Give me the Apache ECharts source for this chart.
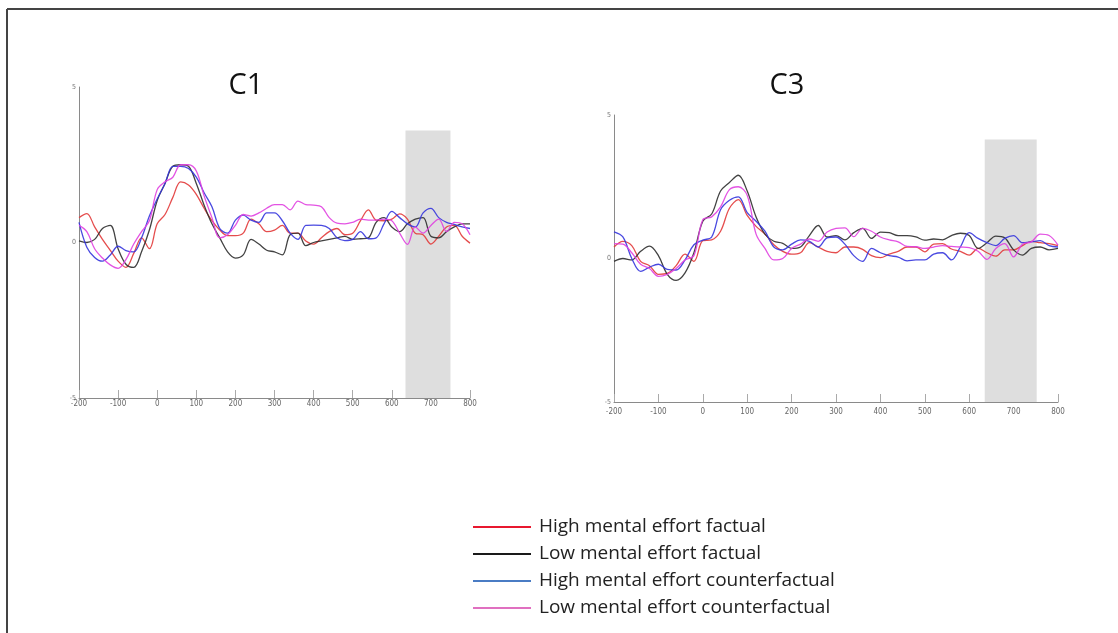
<!DOCTYPE html>
<html>
<head>
<meta charset="utf-8">
<script src="https://cdn.jsdelivr.net/npm/echarts@6/dist/echarts.min.js"></script>
<style>
html,body{margin:0;padding:0;background:#fff;}
#c{width:1118px;height:633px;}
</style>
</head>
<body>
<div id="c"></div>
<script>
// time points (ms)
const times = [-200,-180,-160,-140,-120,-100,-80,-60,-40,-20,0,20,40,60,80,100,120,140,160,180,200,220,240,260,280,300,320,340,360,380,400,420,440,460,480,500,520,540,560,580,600,620,640,660,680,700,720,740,760,780,800];
const xTicks = [-200,-100,0,100,200,300,400,500,600,700,800];
const yTicks = [-5,0,5];
const seriesNames = ['High mental effort factual','Low mental effort factual','High mental effort counterfactual','Low mental effort counterfactual'];
const panelTitles = ['C1','C3'];
// shaded window (ms) per panel: start, end, top value
const windowC1 = [635, 750, 3.6];
const windowC3 = [635, 752, 4.15];

// C1 panel
const c1HighFactual = [0.8,0.93,0.5,0.1,-0.25,-0.6,-0.8,-0.35,0.15,-0.2,0.6,0.9,1.45,1.95,1.85,1.55,1.1,0.7,0.4,0.22,0.22,0.3,0.75,0.6,0.35,0.4,0.55,0.3,0.3,0.05,-0.05,0.15,0.35,0.45,0.25,0.3,0.7,1.05,0.72,0.7,0.75,0.92,0.75,0.3,0.25,-0.05,0.2,0.5,0.55,0.2,-0.02];
const c1LowFactual = [0.05,0.0,0.1,0.45,0.55,-0.2,-0.7,-0.8,-0.3,0.4,1.35,1.9,2.45,2.5,2.45,1.9,1.2,0.6,0.15,-0.3,-0.5,-0.4,0.1,-0.05,-0.25,-0.3,-0.4,0.25,0.3,-0.1,0.0,0.05,0.1,0.15,0.2,0.1,0.12,0.15,0.65,0.8,0.5,0.35,0.6,0.75,0.8,0.2,0.15,0.35,0.5,0.6,0.6];
const c1HighCounter = [0.65,-0.15,-0.48,-0.6,-0.4,-0.12,-0.26,-0.3,0.15,0.85,1.4,1.9,2.45,2.45,2.38,2.1,1.6,1.15,0.45,0.3,0.72,0.88,0.72,0.65,0.95,0.95,0.7,0.3,0.1,0.55,0.56,0.55,0.45,0.15,0.06,0.1,0.35,0.12,0.15,0.6,1.0,0.8,0.6,0.5,0.95,1.1,0.8,0.65,0.58,0.5,0.45];
const c1LowCounter = [0.55,0.35,-0.2,-0.5,-0.72,-0.83,-0.55,-0.05,0.35,0.7,1.7,1.95,2.1,2.5,2.5,2.3,1.5,0.8,0.15,0.25,0.55,0.9,0.85,0.95,1.1,1.22,1.22,1.05,1.33,1.22,1.2,1.15,0.8,0.62,0.6,0.65,0.75,0.72,0.72,0.75,0.7,0.3,-0.06,0.5,0.3,0.55,0.75,0.35,0.65,0.6,0.25];

// C3 panel
const c3HighFactual = [0.4,0.6,0.45,-0.1,-0.25,-0.55,-0.52,-0.25,0.15,-0.1,0.62,0.65,0.95,1.75,2.05,1.5,1.12,0.85,0.48,0.25,0.15,0.2,0.55,0.4,0.25,0.2,0.4,0.4,0.32,0.1,0.03,0.15,0.25,0.4,0.4,0.23,0.5,0.52,0.33,0.25,0.12,0.35,0.2,0.08,0.3,0.3,0.45,0.6,0.55,0.52,0.45];
const c3LowFactual = [-0.1,0.0,-0.05,0.25,0.43,0.1,-0.55,-0.76,-0.5,0.2,1.3,1.55,2.35,2.65,2.9,2.35,1.45,0.85,0.6,0.53,0.35,0.4,0.8,1.15,0.75,0.8,0.65,0.9,1.05,0.7,0.92,0.9,0.8,0.8,0.75,0.64,0.68,0.65,0.8,0.88,0.8,0.35,0.55,0.78,0.72,0.3,0.12,0.35,0.4,0.3,0.35];
const c3HighCounter = [0.93,0.75,0.0,-0.45,-0.3,-0.2,-0.38,-0.4,-0.05,0.48,0.64,0.75,1.7,2.03,2.15,1.6,1.3,0.95,0.4,0.3,0.5,0.65,0.6,0.4,0.72,0.75,0.5,0.1,-0.1,0.35,0.2,0.1,0.05,-0.08,-0.05,-0.05,0.15,0.2,-0.05,0.4,0.9,0.7,0.55,0.45,0.7,0.8,0.55,0.58,0.62,0.45,0.4];
const c3LowCounter = [0.52,0.5,0.2,-0.2,-0.35,-0.62,-0.55,-0.35,-0.05,0.1,1.35,1.45,1.8,2.4,2.5,2.2,0.85,0.35,-0.05,0.0,0.35,0.5,0.68,0.6,0.92,1.05,1.07,0.76,1.05,0.95,0.75,0.65,0.58,0.42,0.41,0.35,0.4,0.45,0.42,0.4,0.38,0.25,-0.03,0.35,0.52,0.06,0.5,0.58,0.85,0.8,0.47];

const lineColors = ['#e23a3a','#2e2e2e','#3535dd','#e040e0'];
const legendColors = ['#e8182f','#1a1a1a','#4a7cc4','#e070c0'];

const panels = [
  [c1HighFactual, c1LowFactual, c1HighCounter, c1LowCounter],
  [c3HighFactual, c3LowFactual, c3HighCounter, c3LowCounter]
];
const windows = [windowC1, windowC3];

function pairs(vals){ return times.map((t,i)=>[t, vals[i]]); }

const grids = [
  {left:79, top:87, width:391, height:311},
  {left:614, top:115, width:444, height:287}
];
const labelMargins = [2, 6];

const xAxes = grids.map((g,i)=>({
  type:'value', gridIndex:i, min:xTicks[0], max:xTicks[xTicks.length-1], interval:100,
  axisLine:{show:true, onZero:false, lineStyle:{color:'#8a8a8a', width:1}},
  axisTick:{show:true, inside:true, length:8, lineStyle:{color:'#aaa'}},
  axisLabel:{fontSize:8, color:'#666', margin:labelMargins[i], fontFamily:'Liberation Sans Narrow, DejaVu Sans Condensed, sans-serif'},
  splitLine:{show:false}
}));
const yAxes = grids.map((g,i)=>({
  type:'value', gridIndex:i, min:yTicks[0], max:yTicks[2], interval:5,
  axisLine:{show:true, onZero:false, lineStyle:{color:'#8a8a8a', width:1}},
  axisTick:{show:false},
  axisLabel:{fontSize:7, color:'#777', margin:3, fontFamily:'Liberation Sans Narrow, DejaVu Sans Condensed, sans-serif'},
  splitLine:{show:false}
}));

const series = [];
panels.forEach((panel,p)=>{
  panel.forEach((vals,k)=>{
    const s = {
      name: seriesNames[k], type:'line', xAxisIndex:p, yAxisIndex:p,
      data: pairs(vals), smooth:0.35, symbol:'none', showSymbol:false,
      lineStyle:{color:lineColors[k], width:1.3, opacity:0.9},
      itemStyle:{color:lineColors[k]},
      z: 3,
      animation:false
    };
    if(k===0){
      s.markArea = {
        silent:true,
        itemStyle:{color:'#dedede', opacity:1},
        z:1,
        data:[[{xAxis:windows[p][0], yAxis:windows[p][2]},{xAxis:windows[p][1], yAxis:yTicks[0]}]]
      };
    }
    series.push(s);
  });
});

const chart = echarts.init(document.getElementById('c'), null, {renderer:'canvas'});
chart.setOption({
  animation:false,
  backgroundColor:'#fff',
  title:[
    {text:panelTitles[0], left:241, top:66, textAlign:'center', textStyle:{fontSize:29, fontWeight:'normal', color:'#111', fontFamily:'Open Sans, sans-serif'}},
    {text:panelTitles[1], left:782, top:66, textAlign:'center', textStyle:{fontSize:29, fontWeight:'normal', color:'#111', fontFamily:'Open Sans, sans-serif'}}
  ],
  grid:grids,
  xAxis:xAxes,
  yAxis:yAxes,
  legend:{
    orient:'vertical', left:473, top:516, padding:0,
    icon:'rect', itemWidth:58, itemHeight:2, itemGap:5,
    textStyle:{fontSize:19, color:'#222', lineHeight:22, padding:[0,0,0,3], fontFamily:'Open Sans, sans-serif'},
    data: seriesNames.map((n,k)=>({name:n, itemStyle:{color:legendColors[k]}}))
  },
  series:series,
  graphic:[
    {type:'line', shape:{x1:7, y1:9, x2:1118, y2:9}, style:{stroke:'#444', lineWidth:2}},
    {type:'line', shape:{x1:7, y1:9, x2:7, y2:633}, style:{stroke:'#444', lineWidth:2}}
  ]
});
</script>
</body>
</html>
